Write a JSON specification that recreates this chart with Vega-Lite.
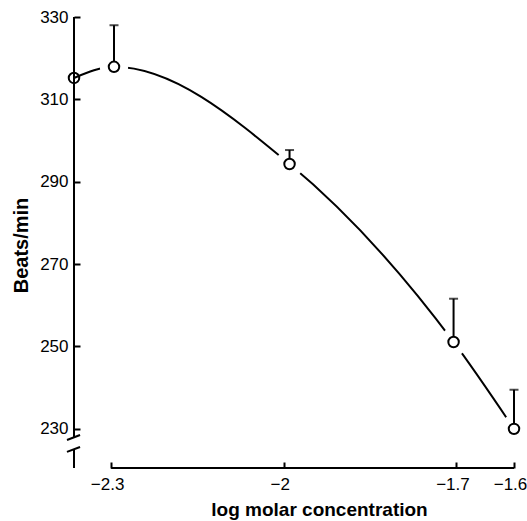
{
  "$schema": "https://vega.github.io/schema/vega-lite/v6.json",
  "width": 440,
  "height": 451,
  "autosize": "none",
  "padding": {"left": 74, "top": 17, "right": 13, "bottom": 53},
  "background": "white",
  "config": {"view": {"stroke": null}, "font": "Liberation Sans"},
  "datasets": {
    "beats": [
      {"logc": -2.3645, "bpm": 315.2, "upper": null, "control": true},
      {"logc": -2.295, "bpm": 317.9, "upper": 328, "control": false},
      {"logc": -1.99, "bpm": 294.3, "upper": 297.7, "control": false},
      {"logc": -1.705, "bpm": 251.1, "upper": 261.6, "control": false},
      {"logc": -1.6, "bpm": 230, "upper": 239.5, "control": false}
    ],
    "axisParts": [
      {"logc": -2.3645, "logc2": -2.3645, "bpm": 330, "bpm2": 227.9},
      {"logc": -2.3767, "logc2": -2.354, "bpm": 227.3, "bpm2": 228.5},
      {"logc": -2.3767, "logc2": -2.354, "bpm": 224.4, "bpm2": 225.6},
      {"logc": -2.3645, "logc2": -2.3645, "bpm": 225.0, "bpm2": 220.5},
      {"logc": -2.3, "logc2": -1.6, "bpm": 220.5, "bpm2": 220.5}
    ]
  },
  "encoding": {
    "x": {
      "field": "logc",
      "type": "quantitative",
      "scale": {"domain": [-2.3645, -1.6], "nice": false, "zero": false},
      "axis": {
        "values": [-2.3, -2, -1.7, -1.6],
        "format": "~g",
        "domain": false,
        "grid": false,
        "tickSize": -6,
        "tickWidth": 2,
        "tickColor": "black",
        "labelColor": "black",
        "labelFontSize": 17,
        "labelPadding": 14,
        "labelOffset": -4,
        "labelBound": false,
        "labelFlush": false,
        "title": "log molar concentration",
        "titleFontSize": 19,
        "titleFontWeight": "bold",
        "titleColor": "black",
        "titleX": 245,
        "titleY": 47,
        "titleAlign": "center",
        "titleBaseline": "alphabetic"
      }
    },
    "y": {
      "field": "bpm",
      "type": "quantitative",
      "scale": {"domain": [220.5, 330], "nice": false, "zero": false},
      "axis": {
        "values": [230, 250, 270, 290, 310, 330],
        "format": "d",
        "domain": false,
        "grid": false,
        "tickSize": -6,
        "tickWidth": 2,
        "tickColor": "black",
        "labelColor": "black",
        "labelFontSize": 17,
        "labelPadding": 12,
        "title": "Beats/min",
        "titleFontSize": 20,
        "titleFontWeight": "bold",
        "titleColor": "black",
        "titleX": -47,
        "titleY": 228,
        "titleAngle": -90,
        "titleAlign": "center",
        "titleBaseline": "alphabetic"
      }
    }
  },
  "layer": [
    {
      "data": {"name": "axisParts"},
      "mark": {"type": "rule", "color": "black", "strokeWidth": 2},
      "encoding": {
        "x2": {"field": "logc2"},
        "y2": {"field": "bpm2"}
      }
    },
    {
      "data": {"name": "beats"},
      "mark": {"type": "line", "interpolate": "monotone", "color": "black", "strokeWidth": 2}
    },
    {
      "data": {"name": "beats"},
      "transform": [{"filter": "datum.control == false"}],
      "mark": {"type": "circle", "opacity": 1},
      "encoding": {"color": {"value": "white"}, "size": {"value": 800}}
    },
    {
      "data": {"name": "beats"},
      "transform": [{"filter": "datum.control == false"}],
      "mark": {"type": "rule", "color": "black", "strokeWidth": 2},
      "encoding": {"y2": {"field": "upper"}}
    },
    {
      "data": {"name": "beats"},
      "transform": [{"filter": "datum.control == false"}],
      "mark": {"type": "tick", "orient": "horizontal", "color": "black", "size": 9, "thickness": 2},
      "encoding": {"y": {"field": "upper", "type": "quantitative"}}
    },
    {
      "data": {"name": "beats"},
      "transform": [{"filter": "datum.control == false"}],
      "mark": {"type": "point", "shape": "circle", "filled": false, "fill": "white", "stroke": "black", "strokeWidth": 2, "opacity": 1, "size": 110}
    },
    {
      "data": {"name": "beats"},
      "transform": [{"filter": "datum.control == true"}],
      "mark": {"type": "point", "shape": "circle", "filled": false, "fill": null, "stroke": "black", "strokeWidth": 2, "opacity": 1, "size": 110}
    }
  ]
}
